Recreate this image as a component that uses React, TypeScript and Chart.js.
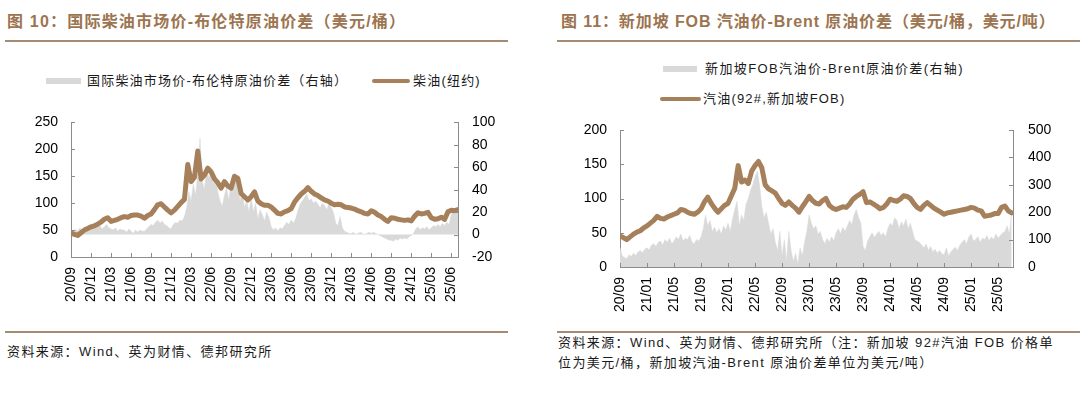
import React, { useEffect, useRef } from 'react';
import { Chart, registerables } from 'chart.js';

Chart.register(...registerables);

// ---------- Data ----------
// Left chart: x ticks every 3 months starting 2020/09
const LEFT_X_TICK_LABELS = ['20/09', '20/12', '21/03', '21/06', '21/09', '21/12', '22/03', '22/06', '22/09', '22/12',
  '23/03', '23/06', '23/09', '23/12', '24/03', '24/06', '24/09', '24/12', '25/03', '25/06'];
// NY diesel, USD/bbl, two readings per month from 2020/09
const LEFT_DIESEL = [
  45, 42, 40, 45, 50, 53, 56, 58, 61, 65,
  70, 73, 66, 68, 70, 73, 75, 74, 77, 78,
  78, 76, 72, 77, 80, 88, 97, 99, 93, 87,
  82, 87, 94, 101, 107, 172, 140, 148, 197, 145,
  152, 165, 158, 145, 138, 128, 140, 132, 128, 150,
  146, 118, 112, 106, 112, 121, 104, 99, 96, 96,
  93, 87, 81, 80, 84, 86, 90, 102, 110, 117,
  122, 129, 122, 117, 114, 110, 106, 104, 100, 97,
  98, 97, 93, 92, 91, 89, 86, 84, 81, 80,
  86, 83, 78, 75, 70, 66, 73, 72, 70, 69,
  68, 69, 67, 76, 82, 80, 81, 83, 73, 70,
  71, 74, 70, 84, 87, 86, 88,
];
// Diesel - Brent spread, USD/bbl (right axis), three readings per month
const LEFT_SPREAD = [
  4, 2, 5, 3, 6, 4, 5, 3, 6, 7, 5, 8, 6, 8, 5, 7, 9, 6,
  5, 4, 6, 3, 5, 4, 4, 2, 5, 3, 1, 4, 2, 4, 3, 3, 5, 7,
  9, 8, 11, 13, 10, 12, 9, 8, 6, 5, 9, 11, 10, 13, 12, 16, 24, 38,
  30, 45, 35, 55, 86, 48, 40, 58, 50, 56, 45, 52, 38, 30, 25, 35, 42, 30,
  48, 40, 52, 45, 30, 38, 24, 30, 20, 33, 20, 28, 14, 22, 18, 12, 20, 15,
  7, 4, 6, 3, 6, 5, 8, 11, 9, 13, 10, 14, 21, 27, 30, 33, 36, 30,
  32, 28, 30, 27, 24, 28, 26, 22, 28, 24, 20, 10, 8, 16, 6, 3, 2, 1,
  1, 2, 0, 1, 2, 1, 0, 1, 2, 1, 2, 1, 0, -1, -2, -3, -4, -5,
  -5, -6, -4, -5, -3, -4, -3, -4, -2, -1, 1, 5, 7, 4, 6, 5, 7, 4,
  6, 8, 7, 9, 7, 10, 8, 11, 9, 18, 21, 19, 20,
];

// Right chart: x ticks every 4 months starting 2020/09
const RIGHT_X_TICK_LABELS = ['20/09', '21/01', '21/05', '21/09', '22/01', '22/05', '22/09', '23/01', '23/05', '23/09',
  '24/01', '24/05', '24/09', '25/01', '25/05'];
// Singapore 92# gasoline FOB, USD/bbl, two readings per month
const RIGHT_GASOLINE = [
  45, 43, 40, 44, 48, 51, 53, 57, 60, 64,
  68, 74, 71, 70, 73, 75, 77, 79, 84, 83,
  80, 78, 77, 80, 85, 95, 102, 93, 86, 80,
  85, 90, 93, 104, 115, 148, 124, 127, 122, 140,
  148, 154, 145, 120, 114, 111, 108, 100, 93, 90,
  95, 90, 86, 80, 88, 95, 103, 97, 93, 92,
  97, 100, 90, 86, 84, 86, 88, 87, 92, 99,
  103, 106, 110, 94, 95, 92, 89, 85, 87, 92,
  99, 97, 96, 99, 104, 103, 100, 93, 87, 84,
  90, 94, 90, 86, 83, 80, 77, 79, 80, 81,
  82, 83, 84, 85, 87, 86, 83, 82, 74, 75,
  76, 78, 78, 87, 89, 82, 79,
];
// Singapore gasoline - Brent spread, USD/t (right axis), three readings per month
const RIGHT_SPREAD = [
  70, 40, 35, 30, 45, 38, 50, 42, 55, 60, 52, 65, 70, 62, 80, 85, 75, 90,
  95, 80, 100, 90, 105, 85, 95, 110, 100, 120, 95, 105, 100, 115, 90, 85, 100, 95,
  110, 140, 190, 150, 170, 130, 145, 125, 140, 120, 150, 135, 160, 130, 175, 210, 240, 150,
  190, 170, 230, 250, 280, 300, 330, 350, 300, 220, 180, 200, 160, 120, 140, 90, 60, 130,
  40, 100, 20, 130, 60, 20, 50, 10, 70, 40, 90, 130, 190, 160, 140, 150, 120, 130,
  100, 85, 105, 90, 110, 95, 125, 140, 120, 145, 130, 150, 170, 155, 190, 210, 180, 160,
  75, 60, 95, 110, 125, 108, 120, 130, 115, 125, 110, 140, 160, 150, 180, 170, 140, 165,
  150, 175, 140, 160, 130, 100, 95, 90, 80, 70, 84, 60, 75, 55, 65, 50, 60, 48,
  45, 70, 40, 55, 65, 72, 60, 80, 90, 100, 85, 110, 120, 95, 100, 110, 90, 105,
  100, 115, 96, 110, 100, 120, 105, 115, 125, 130, 150, 120, 200,
];

// ---------- Styles ----------
const BROWN = '#a6805a';
const GRAY = '#d9d9d9';
const AXIS = '#8c8c8c';
const TITLE_COLOR = '#9c7450';
const RULE_COLOR = '#a58a74';
const TICK_FONT = "'Liberation Sans', Arial, sans-serif";
const CJK = "'Liberation Sans', 'Noto Sans CJK SC', sans-serif";

const insideTicks = {
  id: 'insideTicks',
  afterDraw(chart: any) {
    const { ctx, chartArea } = chart;
    ctx.save();
    ctx.strokeStyle = AXIS;
    ctx.lineWidth = 1;
    Object.values(chart.scales).forEach((s: any) => {
      s.ticks.forEach((t: any) => {
        const p = Math.round(s.getPixelForValue(t.value)) + 0.5;
        ctx.beginPath();
        if (s.axis === 'x') {
          ctx.moveTo(p, chartArea.bottom);
          ctx.lineTo(p, chartArea.bottom - 4);
        } else if (s.position === 'left') {
          ctx.moveTo(chartArea.left, p);
          ctx.lineTo(chartArea.left + 4, p);
        } else {
          ctx.moveTo(chartArea.right, p);
          ctx.lineTo(chartArea.right - 4, p);
        }
        ctx.stroke();
      });
    });
    ctx.restore();
  },
};

type Spec = {
  line: number[]; linePerMonth: number;
  area: number[]; areaPerMonth: number;
  xMax: number; xStep: number; xLabels: string[];
  yMin: number; yMax: number; yStep: number;
  y1Min: number; y1Max: number; y1Step: number;
  padTop: number; leftW: number; rightW: number; bottomH: number;
  leftPad: number; rightPad: number; xPad: number;
  lineLabel: string; areaLabel: string;
};

function buildConfig(sp: Spec): any {
  const tickFont = { family: TICK_FONT, size: 14 };
  return {
    type: 'line',
    data: {
      datasets: [
        {
          label: sp.lineLabel,
          data: sp.line.map((v, i) => ({ x: i / sp.linePerMonth, y: v })),
          yAxisID: 'y',
          borderColor: BROWN,
          backgroundColor: BROWN,
          borderWidth: 5,
          pointRadius: 0,
          tension: 0,
          fill: false,
          borderJoinStyle: 'round',
          borderCapStyle: 'round',
          order: 0,
        },
        {
          label: sp.areaLabel,
          data: sp.area.map((v, i) => ({ x: i / sp.areaPerMonth, y: v })),
          yAxisID: 'y1',
          borderColor: GRAY,
          backgroundColor: GRAY,
          borderWidth: 0.5,
          pointRadius: 0,
          tension: 0,
          fill: 'origin',
          order: 1,
        },
      ],
    },
    options: {
      responsive: false,
      animation: false,
      events: [],
      layout: { padding: { top: sp.padTop, left: 0, right: 0, bottom: 0 } },
      plugins: { legend: { display: false }, tooltip: { enabled: false }, title: { display: false } },
      scales: {
        x: {
          type: 'linear',
          min: 0,
          max: sp.xMax,
          grid: { display: false, drawTicks: false },
          border: { display: true, color: AXIS, width: 1 },
          ticks: {
            stepSize: sp.xStep,
            maxTicksLimit: 100,
            includeBounds: false,
            autoSkip: false,
            minRotation: 90,
            maxRotation: 90,
            padding: sp.xPad,
            color: '#000',
            font: tickFont,
            callback: (v: number) => sp.xLabels[Math.round(v / sp.xStep)] ?? '',
          },
          afterFit: (s: any) => { s.height = sp.bottomH; },
        },
        y: {
          position: 'left',
          min: sp.yMin,
          max: sp.yMax,
          grid: { display: false, drawTicks: false },
          border: { display: true, color: AXIS, width: 1 },
          ticks: { stepSize: sp.yStep, padding: sp.leftPad, color: '#000', font: tickFont },
          afterFit: (s: any) => { s.width = sp.leftW; },
        },
        y1: {
          position: 'right',
          min: sp.y1Min,
          max: sp.y1Max,
          grid: { display: false, drawTicks: false },
          border: { display: true, color: AXIS, width: 1 },
          ticks: { stepSize: sp.y1Step, padding: sp.rightPad, color: '#000', font: tickFont },
          afterFit: (s: any) => { s.width = sp.rightW; },
        },
      },
    },
    plugins: [insideTicks],
  };
}

function ChartCanvas({ spec, left, top, width, height }: { spec: Spec; left: number; top: number; width: number; height: number }) {
  const ref = useRef<HTMLCanvasElement | null>(null);
  useEffect(() => {
    if (!ref.current) return;
    const chart = new Chart(ref.current, buildConfig(spec));
    return () => chart.destroy();
  }, []);
  return (
    <canvas
      ref={ref}
      width={width}
      height={height}
      style={{ position: 'absolute', left, top, width, height }}
    />
  );
}

const abs = (s: any) => ({ position: 'absolute' as const, ...s });

const titleStyle = {
  fontFamily: CJK,
  fontWeight: 700,
  fontSize: 16,
  letterSpacing: 1.2,
  color: TITLE_COLOR,
  lineHeight: '20px',
  whiteSpace: 'nowrap' as const,
};
const legendStyle = {
  fontFamily: CJK,
  fontSize: 13,
  letterSpacing: 1.2,
  color: '#1a1a1a',
  lineHeight: '18px',
  whiteSpace: 'nowrap' as const,
};
const footStyle = {
  fontFamily: CJK,
  fontSize: 13,
  letterSpacing: 1.4,
  color: '#1a1a1a',
  lineHeight: '18px',
  whiteSpace: 'nowrap' as const,
};

export default function App() {
  const leftSpec: Spec = {
    line: LEFT_DIESEL, linePerMonth: 2, area: LEFT_SPREAD, areaPerMonth: 3,
    xMax: 58, xStep: 3, xLabels: LEFT_X_TICK_LABELS,
    yMin: 0, yMax: 250, yStep: 50, y1Min: -20, y1Max: 100, y1Step: 20,
    padTop: 17, leftW: 71, rightW: 70, bottomH: 73,
    leftPad: 13, rightPad: 14, xPad: 10,
    lineLabel: '柴油(纽约)', areaLabel: '国际柴油市场价-布伦特原油价差（右轴）',
  };
  const rightSpec: Spec = {
    line: RIGHT_GASOLINE, linePerMonth: 2, area: RIGHT_SPREAD, areaPerMonth: 3,
    xMax: 58.2, xStep: 4, xLabels: RIGHT_X_TICK_LABELS,
    yMin: 0, yMax: 200, yStep: 50, y1Min: 0, y1Max: 500, y1Step: 100,
    padTop: 30, leftW: 64, rightW: 67, bottomH: 63,
    leftPad: 13, rightPad: 15, xPad: 10,
    lineLabel: '汽油(92#,新加坡FOB)', areaLabel: '新加坡FOB汽油价-Brent原油价差(右轴)',
  };

  return (
    <div style={{ position: 'fixed', left: 0, top: 0, width: 1080, height: 396, background: '#fff', overflow: 'hidden' }}>
      {/* Left panel */}
      <div style={abs({ left: 7, top: 12, ...titleStyle })}>图 10：国际柴油市场价-布伦特原油价差（美元/桶）</div>
      <div style={abs({ left: 5, top: 40, width: 503, height: 1.5, background: RULE_COLOR })} />
      <div style={abs({ left: 46, top: 78, width: 35, height: 6, background: GRAY })} />
      <div style={abs({ left: 87, top: 72, ...legendStyle })}>国际柴油市场价-布伦特原油价差（右轴）</div>
      <div style={abs({ left: 372, top: 79, width: 38, height: 4, background: BROWN, borderRadius: 2 })} />
      <div style={abs({ left: 413, top: 72, ...legendStyle })}>柴油(纽约)</div>
      <ChartCanvas spec={leftSpec} left={0} top={100} width={528} height={230} />
      <div style={abs({ left: 5, top: 331, width: 503, height: 1.5, background: RULE_COLOR })} />
      <div style={abs({ left: 7, top: 343, ...footStyle })}>资料来源：Wind、英为财情、德邦研究所</div>

      {/* Right panel */}
      <div style={abs({ left: 561, top: 12, ...titleStyle, letterSpacing: 0.9 })}>图 11：新加坡 FOB 汽油价-Brent 原油价差（美元/桶，美元/吨）</div>
      <div style={abs({ left: 557, top: 40, width: 523, height: 1.5, background: RULE_COLOR })} />
      <div style={abs({ left: 663, top: 66, width: 34, height: 6, background: GRAY })} />
      <div style={abs({ left: 705, top: 60, ...legendStyle, letterSpacing: 1.4 })}>新加坡FOB汽油价-Brent原油价差(右轴)</div>
      <div style={abs({ left: 660, top: 97, width: 41, height: 4, background: BROWN, borderRadius: 2 })} />
      <div style={abs({ left: 703, top: 90, ...legendStyle })}>汽油(92#,新加坡FOB)</div>
      <ChartCanvas spec={rightSpec} left={556} top={100} width={524} height={230} />
      <div style={abs({ left: 557, top: 331, width: 523, height: 1.5, background: RULE_COLOR })} />
      <div style={abs({ left: 558, top: 334, ...footStyle })}>资料来源：Wind、英为财情、德邦研究所（注：新加坡 92#汽油 FOB 价格单</div>
      <div style={abs({ left: 558, top: 354, ...footStyle })}>位为美元/桶，新加坡汽油-Brent 原油价差单位为美元/吨）</div>
    </div>
  );
}
